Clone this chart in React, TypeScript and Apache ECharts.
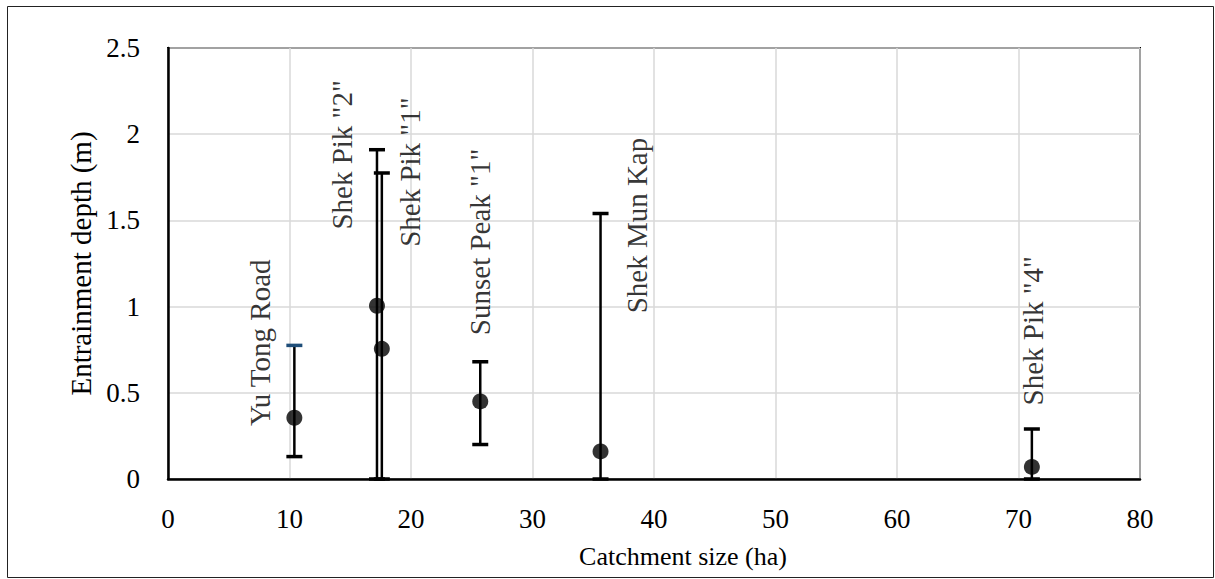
import React, { useEffect, useRef } from "react";
import * as echarts from "echarts";

const siteNames = ['Yu Tong Road', 'Shek Pik "2"', 'Shek Pik "1"', 'Sunset Peak "1"', 'Shek Mun Kap', 'Shek Pik "4"'];
const catchmentSize = [10.4, 17.2, 17.6, 25.7, 35.6, 71.1];
const depthMean = [0.355, 1.005, 0.755, 0.45, 0.16, 0.07];
const depthLow = [0.13, 0, 0, 0.2, 0, 0];
const depthHigh = [0.775, 1.91, 1.775, 0.68, 1.54, 0.29];
const labelX = [7.6, 14.3, 19.9, 25.7, 38.6, 71.2];
const labelY = [0.79, 1.88, 1.78, 1.375, 1.47, 0.86];
const xTitle = "Catchment size (ha)";
const yTitle = "Entrainment depth (m)";

const FONT = "'Liberation Serif', 'Times New Roman', serif";
const FS = 27;
const LFS = 29;

export default function App() {
  const ref = useRef<HTMLDivElement>(null);
  useEffect(() => {
    if (!ref.current) return;
    const chart = echarts.init(ref.current, null, { renderer: "svg" });
    const errData = catchmentSize.map((x, i) => [x, depthLow[i], depthHigh[i]]);
    const pts = catchmentSize.map((x, i) => [x, depthMean[i]]);
    const lbls = labelX.map((x, i) => ({ value: [x, labelY[i]], name: siteNames[i] }));
    chart.setOption({
      animation: false,
      backgroundColor: "#fff",
      textStyle: { fontFamily: FONT },
      graphic: [
        {
          type: "rect",
          shape: { x: 7.5, y: 6.5, width: 1206, height: 571 },
          style: { fill: "none", stroke: "#222", lineWidth: 1 },
          silent: true,
        },
        {
          type: "text",
          x: 683,
          y: 556,
          style: {
            text: xTitle,
            fontFamily: FONT,
            fontSize: 26,
            fill: "#000",
            textAlign: "center",
            textVerticalAlign: "middle",
          },
          silent: true,
        },
      ],
      grid: {
        left: 168,
        top: 48,
        right: 75,
        bottom: 100,
        show: true,
        borderColor: "#000",
        borderWidth: 2,
        backgroundColor: "transparent",
      },
      xAxis: {
        type: "value",
        min: 0,
        max: 80,
        interval: 10,
        axisLine: { show: true, onZero: false, lineStyle: { color: "#000", width: 2.5 } },
        axisTick: { show: false },
        axisLabel: { fontFamily: FONT, fontSize: FS, color: "#000", margin: 26 },
        splitLine: { show: true, lineStyle: { color: "#d9d9d9", width: 1.5 } },
      },
      yAxis: {
        type: "value",
        min: 0,
        max: 2.5,
        interval: 0.5,
        name: yTitle,
        nameLocation: "middle",
        nameGap: 73,
        nameTextStyle: { fontFamily: FONT, fontSize: LFS, color: "#000" },
        axisLine: { show: true, lineStyle: { color: "#000", width: 2.5 } },
        axisTick: { show: false },
        axisLabel: { fontFamily: FONT, fontSize: FS, color: "#000", margin: 28 },
        splitLine: { show: true, lineStyle: { color: "#d9d9d9", width: 1.5 } },
      },
      series: [
        {
          type: "custom",
          data: errData,
          z: 3,
          renderItem: (params: any, api: any) => {
            const x = api.value(0);
            const lo = api.coord([x, api.value(1)]);
            const hi = api.coord([x, api.value(2)]);
            const cw = 8;
            const topColor = params.dataIndex === 0 ? "#1f4e79" : "#000";
            return {
              type: "group",
              children: [
                { type: "line", shape: { x1: lo[0], y1: lo[1], x2: hi[0], y2: hi[1] }, style: { stroke: "#000", lineWidth: 2.5 } },
                { type: "line", shape: { x1: hi[0] - cw, y1: hi[1], x2: hi[0] + cw, y2: hi[1] }, style: { stroke: topColor, lineWidth: 3.5 } },
                { type: "line", shape: { x1: lo[0] - cw, y1: lo[1], x2: lo[0] + cw, y2: lo[1] }, style: { stroke: "#000", lineWidth: 3.5 } },
              ],
            };
          },
        },
        {
          type: "scatter",
          data: pts,
          symbol: "circle",
          symbolSize: 16,
          itemStyle: { color: "#000" },
          z: 4,
        },
        {
          type: "scatter",
          data: lbls,
          symbolSize: 0,
          silent: true,
          label: {
            show: true,
            position: "inside",
            rotate: 90,
            formatter: (p: any) => p.name,
            fontFamily: FONT,
            fontSize: LFS,
            color: "#000",
            align: "center",
            verticalAlign: "middle",
          },
          z: 5,
        },
      ],
    });
    return () => chart.dispose();
  }, []);
  return (
    <div
      ref={ref}
      style={{ position: "fixed", left: 0, top: 0, width: 1215, height: 579 }}
    />
  );
}
